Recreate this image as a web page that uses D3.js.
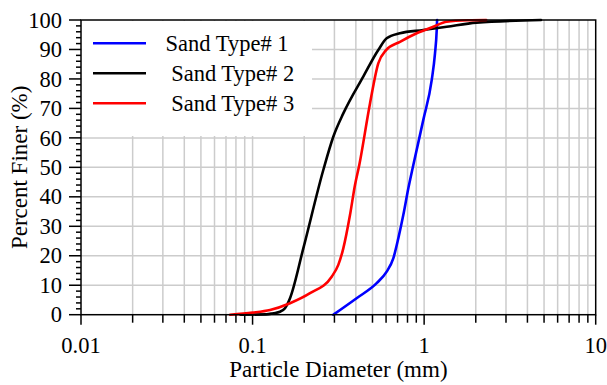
<!doctype html>
<html>
  <head>
    <meta charset="UTF-8">
    <title>grainSize</title>
    <script src="https://d3js.org/d3.v7.min.js"></script>
    <style>
      body { margin: 0; background: #fff; }
      .grid line { stroke: #cccccc; stroke-width: 1.5px; }
      .curve { fill: none; stroke-width: 2.6px; stroke-linejoin: round; stroke-linecap: round; }
    </style>
  </head>
  <body>
    <svg id="chart" width="607" height="385" font-family="'Liberation Serif', 'Times New Roman', serif"></svg>
    <script>
      // Sieve results: [diameter (mm), percent finer]
      const sandType1 = [[0.2955,0],[0.404,5.6],[0.529,10.7],[0.605,14.6],[0.661,19.1],[0.707,25.9],
                         [0.756,33.8],[0.809,42.9],[0.865,50.8],[0.989,66.1],[1.107,79.6],[1.157,88.7],
                         [1.184,96.6],[1.19,100]];
      const sandType2 = [[0.085,0],[0.12,0.1],[0.132,0.5],[0.1445,1],[0.1545,2.2],[0.1653,5.6],
                         [0.1976,22.5],[0.2584,49.1],[0.2955,60.4],[0.338,68.3],[0.4418,80.8],
                         [0.5404,89.8],[0.605,93.8],[0.723,95.5],[0.989,96.6],[1.354,97.7],
                         [2.02,99.1],[4.8,100]];
      const sandType3 = [[0.074,0],[0.1,0.7],[0.1264,1.6],[0.1653,3.9],[0.2162,7.3],[0.2892,12.9],
                         [0.316,16.9],[0.338,22.5],[0.3697,33.8],[0.3954,44],[0.4188,50.8],
                         [0.4836,71.7],[0.5404,85.3],[0.6,89.8],[0.723,92.6],[0.905,95.5],
                         [1.131,97.7],[1.354,99.4],[1.8,99.9],[2.3,100]];
      const seriesNames = ["Sand Type# 1", " Sand Type# 2", " Sand Type# 3"];
      const seriesColors = ["#0000ff", "#000000", "#ff0000"];
      const xTickLabels = [0.01, 0.1, 1, 10];
      const yTickLabels = [0, 10, 20, 30, 40, 50, 60, 70, 80, 90, 100];

      const svg = d3.select("#chart");
      const mLeft = 81, mRight = 595.7, mTop = 20, mBottom = 314.7;

      const x = d3.scaleLog().domain([0.01, 10]).range([mLeft, mRight]);
      const y = d3.scaleLinear().domain([0, 100]).range([mBottom, mTop]);

      // minor positions for log grid: 2..9 in each decade
      const minorX = [];
      [0.01, 0.1, 1].forEach(d => { for (let k = 2; k <= 9; k++) minorX.push(d * k); });
      const gridX = minorX.concat([0.1, 1]);

      const grid = svg.append("g").attr("class", "grid");
      grid.selectAll(".gx").data(gridX).enter().append("line")
        .attr("x1", d => x(d)).attr("x2", d => x(d))
        .attr("y1", mBottom).attr("y2", mTop);
      grid.selectAll(".gy").data(yTickLabels.slice(1, -1)).enter().append("line")
        .attr("x1", mLeft).attr("x2", mRight)
        .attr("y1", d => y(d)).attr("y2", d => y(d));

      // legend box hides the grid behind it
      svg.append("rect")
        .attr("x", mLeft + 1).attr("y", mTop + 1)
        .attr("width", 230).attr("height", 115)
        .attr("fill", "#fff");

      // curves
      const line = d3.line()
        .x(d => x(d[0])).y(d => y(d[1]))
        .curve(d3.curveMonotoneX);
      [sandType1, sandType2, sandType3].forEach((s, i) => {
        svg.append("path").attr("class", "curve")
          .attr("d", line(s)).attr("stroke", seriesColors[i]);
      });

      // frame
      svg.append("rect")
        .attr("x", mLeft).attr("y", mTop)
        .attr("width", mRight - mLeft).attr("height", mBottom - mTop)
        .attr("fill", "none").attr("stroke", "#000").attr("stroke-width", 1.5);

      // x axis
      const xAxis = svg.append("g");
      xAxis.selectAll(".maj").data(xTickLabels).enter().append("line")
        .attr("x1", d => x(d)).attr("x2", d => x(d))
        .attr("y1", mBottom).attr("y2", mBottom + 10)
        .attr("stroke", "#000").attr("stroke-width", 1.5);
      xAxis.selectAll(".min").data(minorX).enter().append("line")
        .attr("x1", d => x(d)).attr("x2", d => x(d))
        .attr("y1", mBottom).attr("y2", mBottom + 8)
        .attr("stroke", "#000").attr("stroke-width", 1.5);
      xAxis.selectAll("text").data(xTickLabels).enter().append("text")
        .attr("x", d => x(d)).attr("y", 353)
        .attr("text-anchor", "middle").attr("font-size", 22.5)
        .text(d => d);

      // y axis
      const yAxis = svg.append("g");
      const minorY = d3.range(0, 101, 2).filter(v => v % 10 !== 0);
      yAxis.selectAll(".maj").data(yTickLabels).enter().append("line")
        .attr("x1", mLeft - 12).attr("x2", mLeft)
        .attr("y1", d => y(d)).attr("y2", d => y(d))
        .attr("stroke", "#000").attr("stroke-width", 1.5);
      yAxis.selectAll(".min").data(minorY).enter().append("line")
        .attr("x1", mLeft - 5).attr("x2", mLeft)
        .attr("y1", d => y(d)).attr("y2", d => y(d))
        .attr("stroke", "#000").attr("stroke-width", 1.5);
      yAxis.selectAll("text").data(yTickLabels).enter().append("text")
        .attr("x", 62).attr("y", d => y(d)).attr("dy", "0.34em")
        .attr("text-anchor", "end").attr("font-size", 22.5)
        .text(d => d);

      // axis titles
      svg.append("text")
        .attr("x", (mLeft + mRight) / 2).attr("y", 377)
        .attr("text-anchor", "middle").attr("font-size", 23)
        .text("Particle Diameter (mm)");
      svg.append("text")
        .attr("transform", `translate(27,${(mTop + mBottom) / 2}) rotate(-90)`)
        .attr("text-anchor", "middle").attr("font-size", 23)
        .text("Percent Finer (%)");

      // legend
      const legend = svg.append("g");
      seriesNames.forEach((name, i) => {
        const ly = 43.3 + i * 30;
        legend.append("line")
          .attr("x1", 93).attr("x2", 146).attr("y1", ly).attr("y2", ly)
          .attr("stroke", seriesColors[i]).attr("stroke-width", 2.6);
        legend.append("text")
          .attr("x", 165.5).attr("y", ly + 8)
          .attr("font-size", 22.5).style("white-space", "pre")
          .text(name);
      });
    </script>
  </body>
</html>
